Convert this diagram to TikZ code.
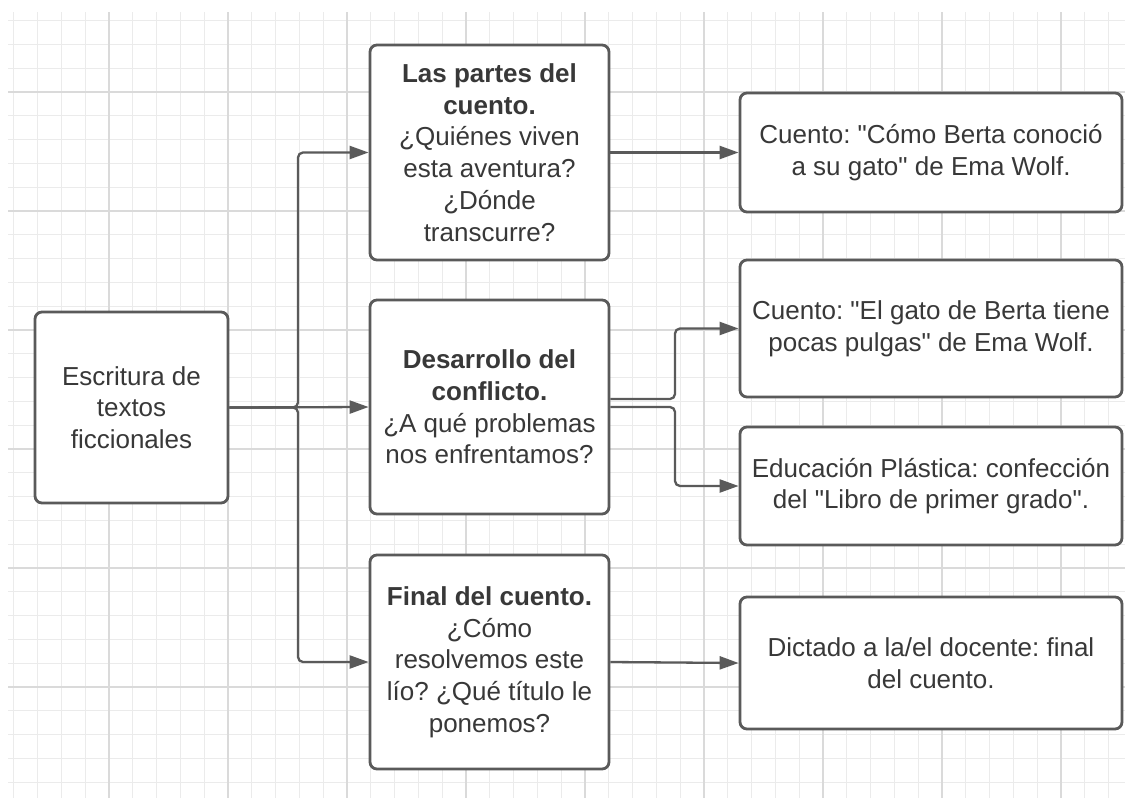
\documentclass[tikz,border=0pt]{standalone}
\usepackage{fontspec}
\setmainfont{Liberation Sans}[Ligatures=TeXOff]
\usetikzlibrary{arrows.meta}
\definecolor{boxline}{HTML}{5A5A5A}
\definecolor{txt}{HTML}{383838}
\definecolor{gridminor}{HTML}{EBEBEB}
\definecolor{gridmajor}{HTML}{DADADA}
\frenchspacing
\begin{document}
\begin{tikzpicture}[x=1pt,y=-1pt,
  box/.style={draw=boxline, line width=2.8pt, rounded corners=7pt, fill=white,
    align=center, text=txt, font=\fontsize{26}{31.7}\selectfont, inner sep=0pt},
  conn/.style={draw=boxline, line width=2.3pt, rounded corners=5pt,
    -{Triangle[length=19pt,width=13pt]}},
  gminor/.style={draw=gridminor, line width=1pt},
  gmajor/.style={draw=gridmajor, line width=1.2pt}]
\useasboundingbox (0,0) rectangle (1125,798);
\fill[white] (0,0) rectangle (1125,798);
% grid
\foreach \i in {0,...,46} {\pgfmathsetmacro\xx{13.8+23.8*\i}
  \draw[gminor] (\xx,12) -- (\xx,798);}
\foreach \i in {0,...,32} {\pgfmathsetmacro\yy{20.6+23.8*\i}
  \draw[gminor] (8,\yy) -- (1125,\yy);}
\foreach \i in {0,...,8} {\pgfmathsetmacro\xx{109+119*\i}
  \draw[gmajor] (\xx,12) -- (\xx,798);}
\foreach \i in {0,...,5} {\pgfmathsetmacro\yy{92+119*\i}
  \draw[gmajor] (8,\yy) -- (1125,\yy);}
% boxes
\node[box, minimum width=193pt, minimum height=191pt] (L) at (131.5,407.5)
  {Escritura de\\textos\\ficcionales};
\node[box, minimum width=239pt, minimum height=215pt] (M1) at (489.5,152.5)
  {\textbf{Las partes del}\\\textbf{cuento.}\\¿Quiénes viven\\esta aventura?\\¿Dónde\\transcurre?};
\node[box, minimum width=239pt, minimum height=214pt] (M2) at (489.5,407)
  {\textbf{Desarrollo del}\\\textbf{conflicto.}\\¿A qué problemas\\nos enfrentamos?};
\node[box, minimum width=239pt, minimum height=214pt] (M3) at (489.5,662)
  {\textbf{Final del cuento.}\\¿Cómo\\resolvemos este\\lío? ¿Qué título le\\ponemos?};
\node[box, minimum width=382pt, minimum height=119pt] (R1) at (931,152.5)
  {Cuento: "Cómo Berta conoció\\a su gato" de Ema Wolf.};
\node[box, minimum width=382pt, minimum height=137pt] (R2) at (931,328.5)
  {Cuento: "El gato de Berta tiene\\pocas pulgas" de Ema Wolf.};
\node[box, minimum width=382pt, minimum height=118pt] (R3) at (931,486)
  {Educación Plástica: confección\\del "Libro de primer grado".};
\node[box, minimum width=382pt, minimum height=132pt] (R4) at (931,663)
  {Dictado a la/el docente: final\\del cuento.};
% connectors
\coordinate (tx) at (298,0);
\coordinate (bx) at (675,0);
\draw[conn] (L.east) -- (L.east -| tx) |- (M1.west);
\draw[conn] (L.east) -- (L.east -| tx) |- (M3.west);
\draw[conn] (L.east) -- (M2.west);
\draw[conn] (M1.east) -- (R1.west);
\draw[conn] ([yshift=8pt]M2.east) -- ([yshift=8pt]M2.east -| bx) |- (R2.west);
\draw[conn] (M2.east) -- (M2.east -| bx) |- (R3.west);
\draw[conn] (M3.east) -- (R4.west);
\end{tikzpicture}
\end{document}
